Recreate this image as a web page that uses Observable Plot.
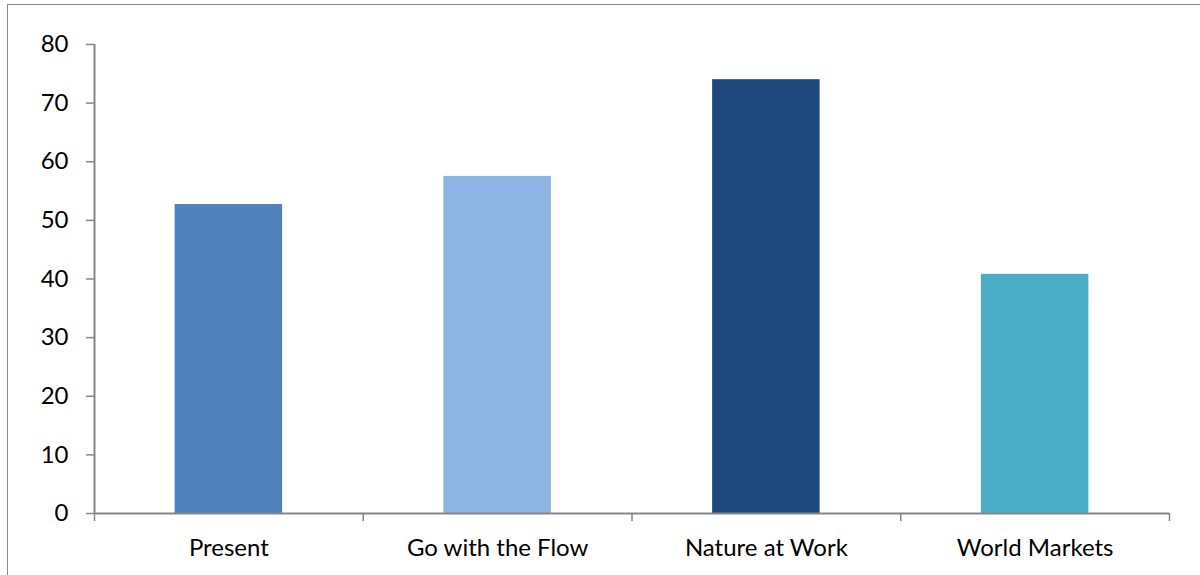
<!DOCTYPE html>
<html>
<head>
<meta charset="utf-8">
<script src="https://cdn.jsdelivr.net/npm/d3@7"></script>
<script src="https://cdn.jsdelivr.net/npm/@observablehq/plot@0.6"></script>
<style>
  html, body { margin: 0; padding: 0; background: #fff; overflow: hidden; }
  #wrap { position: relative; width: 1200px; height: 575px; }
  #frame { position: absolute; left: 7px; top: 4px; width: 1200px; height: 600px; border: 1.5px solid #898989; box-sizing: border-box; }
  #chart { position: absolute; left: 0; top: 0; }
</style>
</head>
<body>
<div id="wrap"><div id="frame"></div><div id="chart"></div></div>
<script>
const categories = ["Present", "Go with the Flow", "Nature at Work", "World Markets"];
const values = [52.7, 57.5, 74.0, 40.8];
const colors = ["#4F81BD", "#8EB4E3", "#1F497D", "#4BACC6"];
const yTicks = [0, 10, 20, 30, 40, 50, 60, 70, 80];

const data = categories.map((c, i) => ({ i, category: c, value: values[i], color: colors[i] }));
const gray = "#868686";

const chart = Plot.plot({
  width: 1200,
  height: 575,
  marginLeft: 94,
  marginRight: 31,
  marginTop: 44,
  marginBottom: 62,
  style: { fontFamily: "Lato, 'Open Sans', sans-serif", fontSize: "24px", color: "#000", background: "transparent" },
  x: { domain: [0, categories.length], axis: null },
  y: { domain: [0, 80], axis: null },
  marks: [
    Plot.rectY(data, { x1: d => d.i + 0.3, x2: d => d.i + 0.7, y: "value", fill: "color" }),
    Plot.axisY({ ticks: yTicks, label: null, tickSize: 8, tickPadding: 18, stroke: gray, fill: "#000", strokeWidth: 1.5, fontSize: 24 }),
    Plot.axisX({ ticks: d3.range(categories.length + 1), label: null, tickFormat: () => "", tickSize: 8, stroke: gray, strokeWidth: 1.5 }),
    Plot.axisX({ ticks: categories.map((c, i) => i + 0.5), label: null, tickFormat: t => categories[Math.floor(t)], tickSize: 0, tickPadding: 25, fill: "#000", fontSize: 24 }),
    Plot.ruleY([0], { stroke: gray, strokeWidth: 2 }),
    Plot.ruleX([0], { stroke: gray, strokeWidth: 2 })
  ]
});
document.getElementById("chart").appendChild(chart);
</script>
</body>
</html>
